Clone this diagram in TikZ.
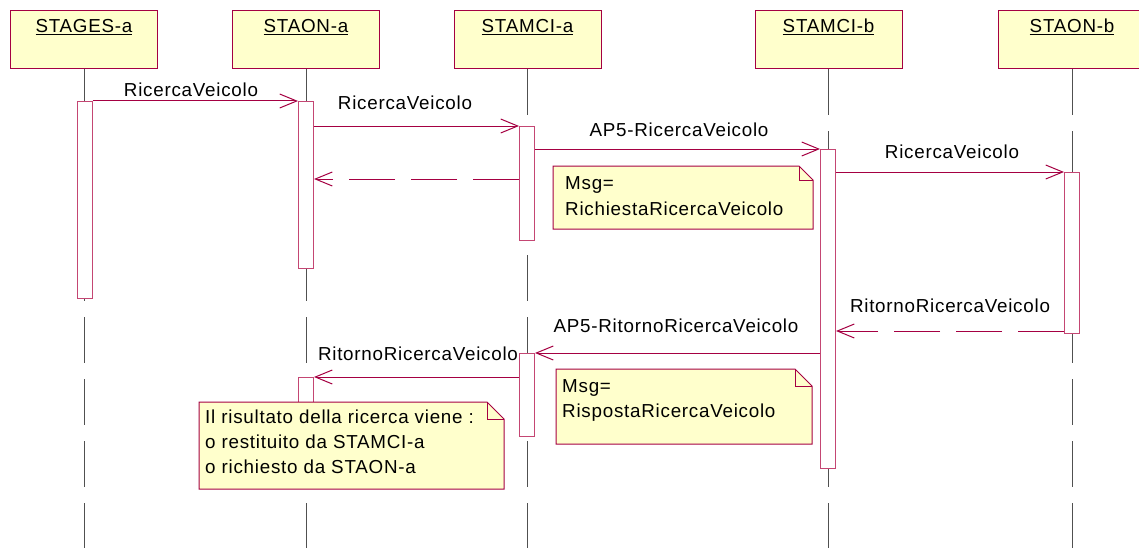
\documentclass[tikz,border=0pt]{standalone}
\usepackage{fontspec}
\setmainfont{Liberation Sans}[LetterSpace=4]
\usetikzlibrary{arrows.meta}
\definecolor{umlred}{RGB}{165,0,66}
\definecolor{barred}{RGB}{196,70,115}
\definecolor{notefill}{RGB}{255,255,204}
\definecolor{lifegray}{RGB}{80,80,80}
\tikzset{
  headbox/.style={draw=umlred, fill=notefill, line width=1pt, minimum width=147pt, minimum height=58pt, anchor=north, inner sep=0pt},
  headlabel/.style={anchor=base, inner sep=0pt, font=\fontsize{18.8}{22}\selectfont},
  actbar/.style={draw=barred, fill=white, line width=1pt, minimum width=15pt, anchor=north, inner sep=0pt},
  lifeline/.style={draw=lifegray, line width=1pt, dash pattern=on 46pt off 16pt},
  msg/.style={draw=umlred, line width=1pt, -{Straight Barb[length=17pt,width=14pt,line width=1pt]}},
  retmsg/.style={msg, dash pattern=on 46pt off 16pt},
  msglabel/.style={anchor=base, inner sep=0pt, font=\fontsize{18.8}{22}\selectfont},
  notetext/.style={anchor=base west, inner sep=0pt, font=\fontsize{18.8}{22}\selectfont},
  notebox/.style={draw=umlred, fill=notefill, line width=1pt},
  notefold/.style={draw=umlred, line width=1pt}
}
\newcommand{\umlnote}[5]{% x1,y1,x2,y2,fold
  \path[notebox] (#1,#2) -- ({#3-#5},#2) -- (#3,{#2+#5}) -- (#3,#4) -- (#1,#4) -- cycle;
  \path[notefold] ({#3-#5},#2) -- ({#3-#5},{#2+#5}) -- (#3,{#2+#5});
}
\begin{document}
\begin{tikzpicture}[x=1pt,y=-1pt]
\useasboundingbox (0,0) rectangle (1139,559);
\fill[white] (0,0) rectangle (1139,559);

% heads
\node[headbox] (hA) at (84,10) {};
\node[headbox] (hB) at (306,10) {};
\node[headbox] (hC) at (527.5,10) {};
\node[headbox] (hD) at (828.5,10) {};
\node[headbox] (hE) at (1072,10) {};
\node[headlabel] (tA) at (84,33) {\underline{STAGES-a}};
\node[headlabel] (tB) at (306,33) {\underline{STAON-a}};
\node[headlabel] (tC) at (527.5,33) {\underline{STAMCI-a}};
\node[headlabel] (tD) at (828.5,33) {\underline{STAMCI-b}};
\node[headlabel] (tE) at (1072,33) {\underline{STAON-b}};

% lifeline ends
\coordinate (eA) at (84,548);
\coordinate (eB) at (306,548);
\coordinate (eC) at (527,548);
\coordinate (eD) at (828,548);
\coordinate (eE) at (1072,548);
\draw[lifeline] (hA.south -| eA) -- (eA);
\draw[lifeline] (hB.south -| eB) -- (eB);
\draw[lifeline] (hC.south -| eC) -- (eC);
\draw[lifeline] (hD.south -| eD) -- (eD);
\draw[lifeline] (hE.south -| eE) -- (eE);

% activation bars
\node[actbar, minimum height=197pt] (b1) at (84.5,101) {};
\node[actbar, minimum height=167pt] (b2) at (306,101) {};
\node[actbar, minimum height=114pt] (b3) at (527,126) {};
\node[actbar, minimum height=319pt] (b4) at (828,149) {};
\node[actbar, minimum height=161pt] (b5) at (1072,172) {};
\node[actbar, minimum height=83pt] (b6) at (527,353) {};
\node[actbar, minimum height=40pt] (b7) at (306,377) {};

% messages
\draw[msg] (b1.north east) -- (b2.north west);
\node[msglabel] (l1) at (191,96) {RicercaVeicolo};
\draw[msg] (b2.east |- b3.north) -- (b3.north west);
\node[msglabel] (l2) at (405,110) {RicercaVeicolo};
\draw[msg] (b3.east |- b4.north) -- (b4.north west);
\node[msglabel] (l3) at (679,136) {AP5-RicercaVeicolo};
\draw[msg] (b4.east |- b5.north) -- (b5.north west);
\node[msglabel] (l4) at (952,158) {RicercaVeicolo};

\coordinate (r1) at (0,179);
\draw[retmsg] (b3.west |- r1) -- (b2.east |- r1);
\coordinate (r2) at (0,331);
\draw[retmsg] (b5.west |- r2) -- (b4.east |- r2);
\node[msglabel] (l5) at (950,312) {RitornoRicercaVeicolo};

\draw[msg] (b4.west |- b6.north) -- (b6.north east);
\node[msglabel] (l6) at (676,332) {AP5-RitornoRicercaVeicolo};
\draw[msg] (b6.west |- b7.north) -- (b7.north east);
\node[msglabel] (l7) at (418,360) {RitornoRicercaVeicolo};

% notes
\umlnote{553}{166}{813}{229}{14}
\node[notetext] (n1a) at (565,189) {Msg=};
\node[notetext] (n1b) at (565,215) {RichiestaRicercaVeicolo};

\umlnote{556}{369}{812}{444}{17}
\node[notetext] (n2a) at (562,392) {Msg=};
\node[notetext] (n2b) at (562,417) {RispostaRicercaVeicolo};

\umlnote{199}{402}{504}{489}{17}
\node[notetext] (n3a) at (205,423) {Il risultato della ricerca viene :};
\node[notetext] (n3b) at (205,448) {o restituito da STAMCI-a};
\node[notetext] (n3c) at (205,473) {o richiesto da STAON-a};
\end{tikzpicture}
\end{document}
